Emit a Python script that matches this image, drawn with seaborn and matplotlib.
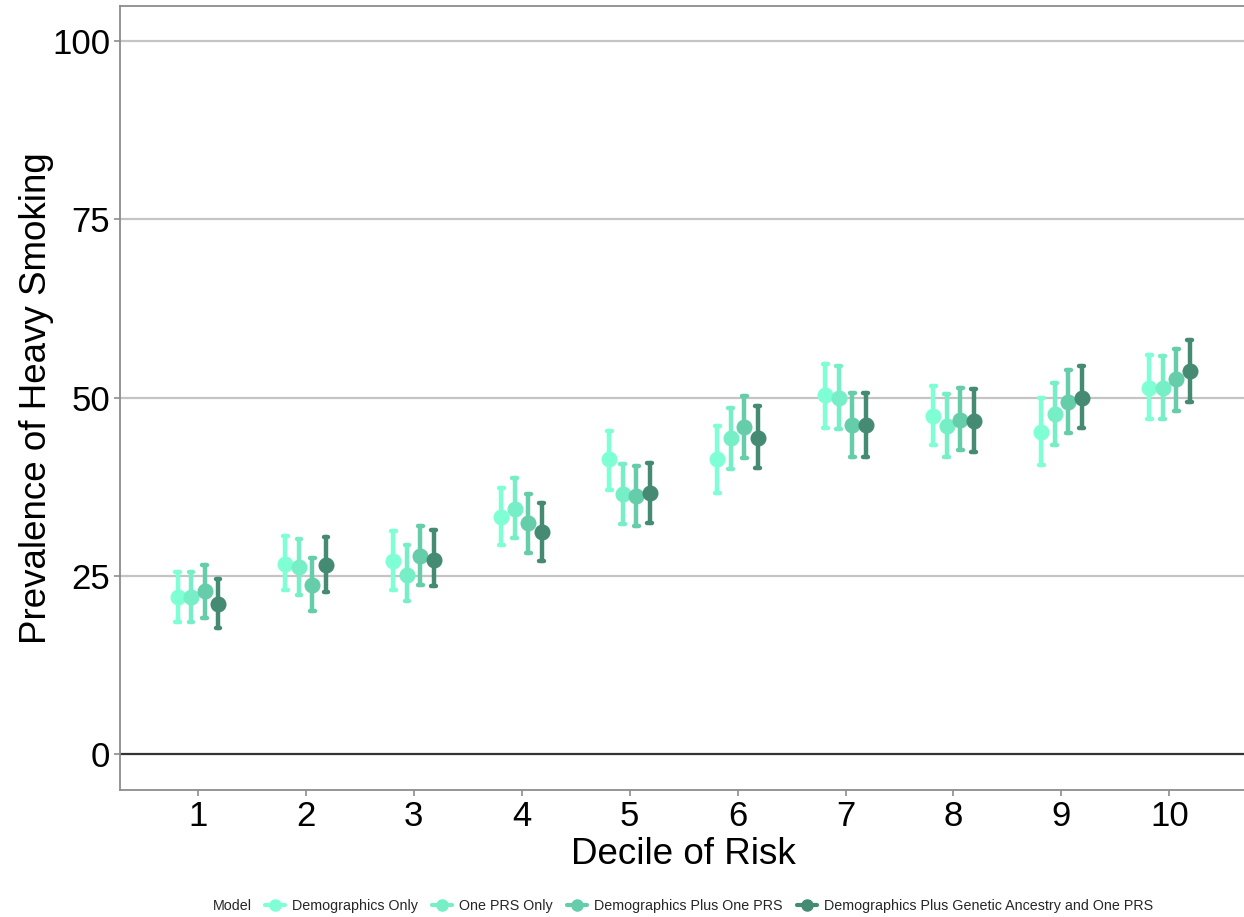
import pandas as pd
import numpy as np
import matplotlib
matplotlib.use("Agg")
import matplotlib.pyplot as plt
from matplotlib.lines import Line2D
import seaborn as sns

# ── Data ───────────────────────────────────────────────────
deciles = [1, 2, 3, 4, 5, 6, 7, 8, 9, 10]
models = [
    "Demographics Only",
    "One PRS Only",
    "Demographics Plus One PRS",
    "Demographics Plus Genetic Ancestry and One PRS",
]
colors = ["#7FFFD4", "#76EEC6", "#66CDAA", "#458B74"]

demo_only_est = [22.0, 26.7, 27.1, 33.3, 41.4, 41.4, 50.4, 47.4, 45.2, 51.4]
demo_only_lo = [18.6, 23.0, 23.1, 29.3, 37.1, 36.7, 45.8, 43.4, 40.6, 47.0]
demo_only_hi = [25.6, 30.6, 31.3, 37.4, 45.3, 46.0, 54.8, 51.6, 49.9, 56.0]

one_prs_est = [22.1, 26.3, 25.2, 34.4, 36.5, 44.3, 50.0, 46.0, 47.7, 51.4]
one_prs_lo = [18.6, 22.4, 21.5, 30.3, 32.3, 40.0, 45.6, 41.7, 43.4, 47.0]
one_prs_hi = [25.6, 30.2, 29.4, 38.7, 40.7, 48.6, 54.4, 50.5, 52.1, 55.8]

demo_plus_est = [22.9, 23.8, 27.8, 32.4, 36.2, 45.9, 46.2, 46.9, 49.4, 52.6]
demo_plus_lo = [19.1, 20.1, 23.8, 28.2, 32.0, 41.5, 41.7, 42.7, 45.1, 48.1]
demo_plus_hi = [26.5, 27.6, 32.0, 36.5, 40.4, 50.2, 50.6, 51.4, 53.9, 56.9]

full_est = [21.1, 26.5, 27.3, 31.2, 36.6, 44.4, 46.2, 46.7, 50.0, 53.7]
full_lo = [17.7, 22.7, 23.6, 27.1, 32.5, 40.2, 41.7, 42.4, 45.7, 49.4]
full_hi = [24.6, 30.5, 31.5, 35.3, 40.9, 48.8, 50.6, 51.2, 54.4, 58.1]

y_ticks = [0, 25, 50, 75, 100]

# Long table: lo / estimate / hi rows, so median = estimate and the
# 100% percentile interval = (lo, hi)
series = [
    (demo_only_lo, demo_only_est, demo_only_hi),
    (one_prs_lo, one_prs_est, one_prs_hi),
    (demo_plus_lo, demo_plus_est, demo_plus_hi),
    (full_lo, full_est, full_hi),
]
rows = []
for model, (lo, est, hi) in zip(models, series):
    for d, a, b, c in zip(deciles, lo, est, hi):
        for v in (a, b, c):
            rows.append({"Decile": str(d), "Model": model, "Prevalence": v})
df = pd.DataFrame(rows)

# ── Plot ───────────────────────────────────────────────────
sns.set_style("white")
plt.rcParams["font.family"] = ["Liberation Sans", "DejaVu Sans"]

fig = plt.figure(figsize=(12.44, 9.17), dpi=100)
ax = fig.add_axes([0.0965, 0.1385, 0.906, 0.8555])

sns.pointplot(
    data=df, x="Decile", y="Prevalence", hue="Model",
    order=[str(d) for d in deciles], hue_order=models,
    palette=colors, estimator="median", errorbar=("pi", 100),
    dodge=0.375, linestyle="none", markers="o", markersize=9.5,
    capsize=0.045, err_kws={"linewidth": 3.2},
    legend=False, ax=ax, zorder=3,
)

ax.set_xlim(-0.72, 9.72)
ax.set_ylim(-5, 105)
ax.set_yticks(y_ticks)
ax.set_yticklabels([str(t) for t in y_ticks])
for t in y_ticks[1:]:
    ax.axhline(t, color="#c4c4c4", linewidth=1.6, zorder=0)
ax.axhline(0, color="#333333", linewidth=1.6, zorder=1)

for side in ["left", "bottom", "top"]:
    ax.spines[side].set_color("#8c8c8c")
    ax.spines[side].set_linewidth(1.3)
ax.spines["right"].set_visible(False)

ax.tick_params(axis="both", labelsize=25, colors="#8c8c8c", labelcolor="black",
               length=4, width=1.2, direction="out", left=True, bottom=True)
ax.tick_params(axis="x", pad=3)
ax.tick_params(axis="y", pad=3)
ax.set_xlabel("Decile of Risk", fontsize=26.5, labelpad=3, color="black")
ax.set_ylabel("Prevalence of Heavy Smoking", fontsize=26.5, labelpad=-1,
              color="black")

# Legend along the bottom, title on the same row
handles = [Line2D([0], [0], color=c, marker="o", markersize=8, linewidth=3)
           for c in colors]
fig.legend(handles, models, loc="center", bbox_to_anchor=(0.570, 0.012),
           ncol=4, frameon=False, fontsize=10.3, handlelength=1.4,
           handletextpad=0.5, columnspacing=1.0)
fig.text(0.171, 0.012, "Model", fontsize=10.3, ha="left", va="center")

fig.savefig("out.png", dpi=100)
plt.close(fig)
